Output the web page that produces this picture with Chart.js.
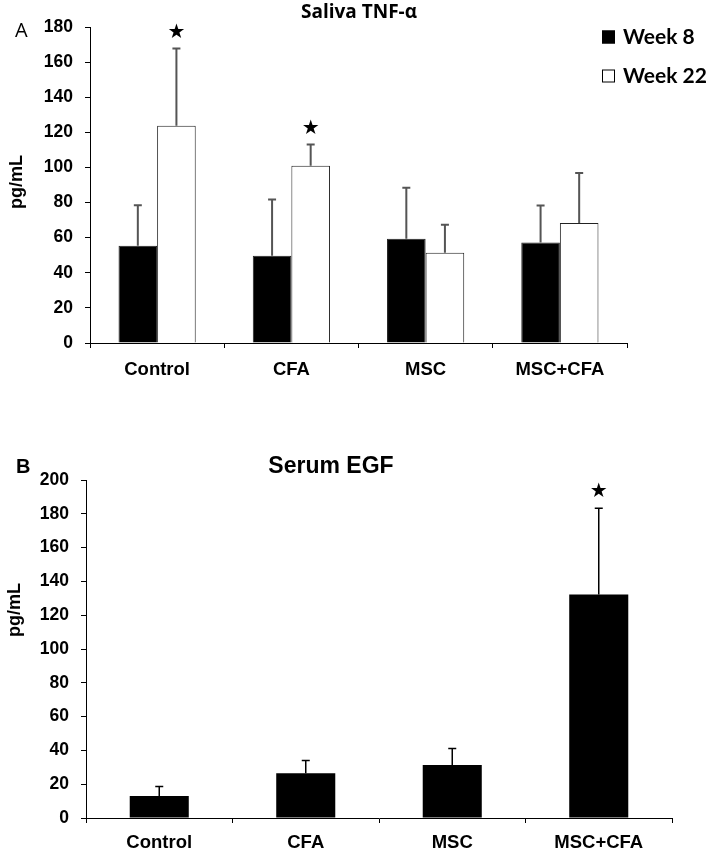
<!DOCTYPE html>
<html>
<head>
<meta charset="utf-8">
<script src="https://cdn.jsdelivr.net/npm/chart.js@4.4.0/dist/chart.umd.min.js"></script>
<style>
  body { margin: 0; background: #fff; }
  #wrapA { position: absolute; left: 0; top: 0; width: 711px; height: 400px; }
  #wrapB { position: absolute; left: 0; top: 430px; width: 711px; height: 423px; }
</style>
</head>
<body>
<div id="wrapA"><canvas id="chartA"></canvas></div>
<div id="wrapB"><canvas id="chartB"></canvas></div>
<script>
// groups on the x axis (both panels)
var groups = ['Control', 'CFA', 'MSC', 'MSC+CFA'];

// panel A - saliva TNF-alpha, pg/mL
var tnfWeek8 = [55.4, 49.7, 59.4, 57.3];
var tnfWeek8Sd = [23, 32, 29, 21];
var tnfWeek22 = [123.7, 101, 51.4, 68.3];
var tnfWeek22Sd = [44, 12, 16, 28.5];
var tnfWeek22Star = [true, true, false, false];
var tnfMax = 180;

// panel B - serum EGF, pg/mL
var egfValues = [13, 26.5, 31.4, 132.3];
var egfSd = [5.6, 7.5, 9.7, 51];
var egfStar = [false, false, false, true];
var egfMax = 200;

var tickStep = 20;

Chart.defaults.color = '#000';
Chart.defaults.font.family = "'Liberation Sans', Arial, sans-serif";

// error bar (upper only) + star plugin
var errorBars = {
    id: 'errorBars',
    afterDatasetsDraw: function (chart) {
        var ctx = chart.ctx;
        var y = chart.scales.y;
        chart.data.datasets.forEach(function (ds, di) {
            if (!ds.errors) return;
            var meta = chart.getDatasetMeta(di);
            ctx.save();
            ctx.strokeStyle = ds.errorColor || '#000';
            ctx.lineWidth = ds.errorWidth || 1.5;
            for (var i = 0; i < ds.data.length; i++) {
                var bar = meta.data[i];
                var top = y.getPixelForValue(ds.data[i] + ds.errors[i]);
                ctx.beginPath();
                ctx.moveTo(bar.x, bar.y);
                ctx.lineTo(bar.x, top);
                ctx.moveTo(bar.x - 4, top);
                ctx.lineTo(bar.x + 4, top);
                ctx.stroke();
                if (ds.stars && ds.stars[i]) {
                    ctx.fillStyle = '#000';
                    ctx.font = "20px 'DejaVu Sans'";
                    ctx.textAlign = 'center';
                    ctx.textBaseline = 'middle';
                    ctx.fillText('\u2605', bar.x, top - 16);
                }
            }
            ctx.restore();
        });
    }
};

// free text: panel letter, title, rotated axis label
var panelText = {
    id: 'panelText',
    afterDraw: function (chart, args, opts) {
        var ctx = chart.ctx;
        (opts.items || []).forEach(function (t) {
            ctx.save();
            ctx.fillStyle = '#000';
            ctx.font = t.font;
            ctx.textAlign = t.align || 'center';
            ctx.textBaseline = 'middle';
            ctx.translate(t.x, t.y);
            if (t.rotate) ctx.rotate(t.rotate);
            ctx.fillText(t.text, 0, 0);
            ctx.restore();
        });
    }
};

// legend drawn as stacked boxes at top right
var boxLegend = {
    id: 'boxLegend',
    afterDraw: function (chart, args, opts) {
        if (!opts.show) return;
        var ctx = chart.ctx;
        chart.data.datasets.forEach(function (ds, i) {
            var yy = opts.y + i * opts.gap;
            ctx.save();
            ctx.fillStyle = ds.backgroundColor;
            ctx.strokeStyle = '#000';
            ctx.lineWidth = 1;
            ctx.fillRect(opts.x, yy - 6.5, 13, 13);
            ctx.strokeRect(opts.x + 0.5, yy - 6, 12, 12);
            ctx.fillStyle = '#000';
            ctx.font = opts.font;
            ctx.textAlign = 'left';
            ctx.textBaseline = 'middle';
            ctx.fillText(ds.label, opts.x + 21, yy);
            ctx.restore();
        });
    }
};

function axes(max, width, height, xPad) {
    return {
        x: {
            grid: { display: true, offset: true, drawOnChartArea: false, tickLength: 5, color: '#000' },
            border: { color: '#000', width: 1 },
            ticks: { font: { size: 18.5, weight: 'bold' }, padding: xPad, maxRotation: 0 },
            afterFit: function (s) { s.height = height; }
        },
        y: {
            min: 0,
            max: max,
            grid: { display: true, drawOnChartArea: false, tickLength: 5, color: '#000' },
            border: { color: '#000', width: 1 },
            ticks: { stepSize: tickStep, font: { size: 17.5, weight: 'bold' }, padding: 12 },
            afterFit: function (s) { s.width = width; }
        }
    };
}

new Chart(document.getElementById('chartA'), {
    type: 'bar',
    data: {
        labels: groups,
        datasets: [{
            label: 'Week 8',
            data: tnfWeek8,
            errors: tnfWeek8Sd,
            errorColor: '#555',
            errorWidth: 2,
            backgroundColor: '#000',
            borderColor: '#222',
            borderWidth: 1,
            categoryPercentage: 0.575,
            barPercentage: 1
        }, {
            label: 'Week 22',
            data: tnfWeek22,
            errors: tnfWeek22Sd,
            stars: tnfWeek22Star,
            errorColor: '#555',
            errorWidth: 2,
            backgroundColor: '#fff',
            borderColor: '#222',
            borderWidth: 1,
            categoryPercentage: 0.575,
            barPercentage: 1
        }]
    },
    options: {
        responsive: true,
        maintainAspectRatio: false,
        animation: false,
        layout: { padding: { left: 0, right: 84, top: 27, bottom: 0 } },
        scales: axes(tnfMax, 90, 57, 11),
        plugins: {
            legend: { display: false },
            tooltip: { enabled: false },
            boxLegend: { show: true, x: 602, y: 37, gap: 39, font: "bold 21px Lato" },
            panelText: {
                items: [
                    { text: 'A', x: 15, y: 31, align: 'left', font: "20px 'Open Sans'" },
                    { text: 'Saliva TNF-\u03b1', x: 359, y: 13, font: "bold 19px 'Open Sans'" },
                    { text: 'pg/mL', x: 17, y: 182, rotate: -Math.PI / 2, font: "bold 18px 'Liberation Sans'" }
                ]
            }
        }
    },
    plugins: [errorBars, panelText, boxLegend]
});

new Chart(document.getElementById('chartB'), {
    type: 'bar',
    data: {
        labels: groups,
        datasets: [{
            label: 'EGF',
            data: egfValues,
            errors: egfSd,
            stars: egfStar,
            errorColor: '#000',
            errorWidth: 1.5,
            backgroundColor: '#000',
            borderColor: '#000',
            borderWidth: 0,
            categoryPercentage: 0.403,
            barPercentage: 1
        }]
    },
    options: {
        responsive: true,
        maintainAspectRatio: false,
        animation: false,
        layout: { padding: { left: 0, right: 39, top: 50, bottom: 0 } },
        scales: axes(egfMax, 86, 35, 9),
        plugins: {
            legend: { display: false },
            tooltip: { enabled: false },
            boxLegend: { show: false },
            panelText: {
                items: [
                    { text: 'B', x: 16, y: 37, align: 'left', font: "bold 20px 'Liberation Sans'" },
                    { text: 'Serum EGF', x: 331, y: 37, font: "bold 23px 'Liberation Sans'" },
                    { text: 'pg/mL', x: 15, y: 180, rotate: -Math.PI / 2, font: "bold 18px 'Liberation Sans'" }
                ]
            }
        }
    },
    plugins: [errorBars, panelText, boxLegend]
});
</script>
</body>
</html>
